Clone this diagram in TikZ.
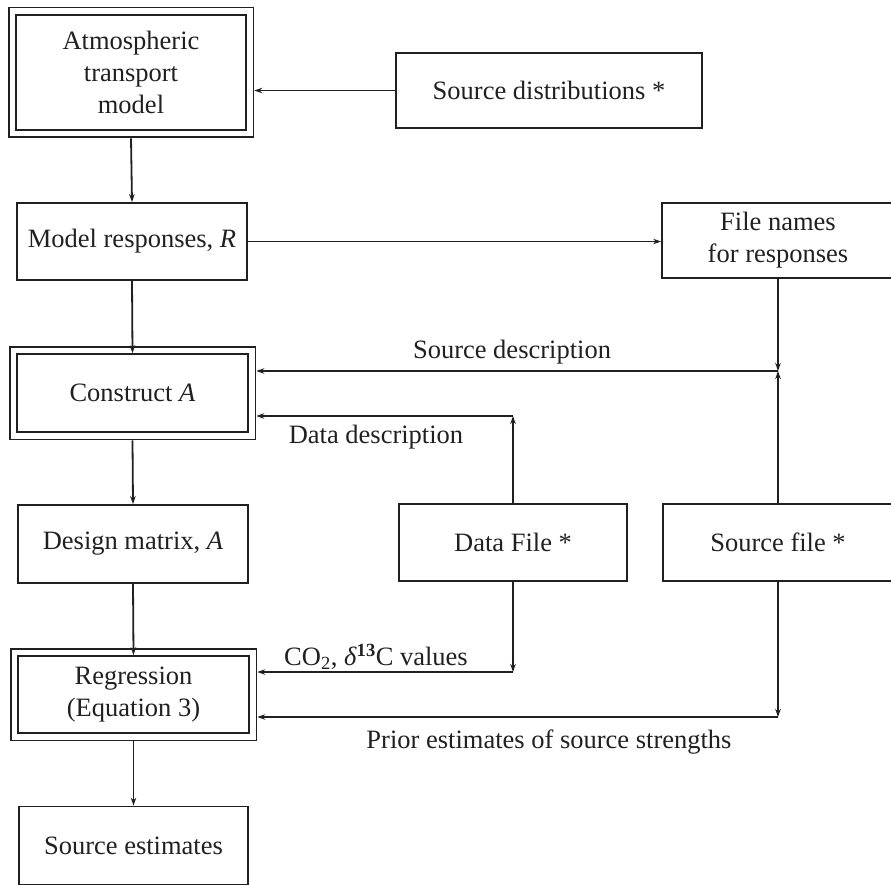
\documentclass[tikz,border=0pt]{standalone}
\usepackage{fontspec}
\setmainfont{Liberation Serif}
\usetikzlibrary{arrows.meta,fit}
\definecolor{ink}{HTML}{202020}
\tikzset{
  box/.style={draw=ink, line width=1.8pt, inner sep=0pt, align=center,
    font=\fontsize{26.5}{32}\selectfont, text=ink},
  outerbox/.style={draw=ink, line width=1.8pt, inner sep=6.5pt},
  conn/.style={draw=ink, line width=1.8pt, -{Stealth[length=8pt,width=5.5pt]}},
  lbl/.style={font=\fontsize{26.5}{32}\selectfont, inner sep=0pt, text=ink}
}
\begin{document}
\begin{tikzpicture}[x=1pt,y=-1pt]
\useasboundingbox (0,0) rectangle (891,885);
\clip (0,0) rectangle (891,885);
% boxes
\node[box, minimum width=230, minimum height=115] (atm) at (131,72.5) {Atmospheric\\transport\\model};
\node[outerbox, fit=(atm)] (atmO) {};
\node[box, minimum width=306, minimum height=75] (srcdist) at (549,90.5) {Source distributions *};
\node[box, minimum width=230, minimum height=77] (resp) at (132,241.5) {Model responses, \textit{R}};
\node[box, minimum width=232, minimum height=75] (fnames) at (778,240.5) {File names\\for responses};
\node[box, minimum width=231, minimum height=78] (constA) at (132.5,393) {Construct \textit{A}};
\node[outerbox, fit=(constA)] (constAO) {};
\node[box, minimum width=230, minimum height=78] (design) at (133,544) {Design matrix, \textit{A}};
\node[box, minimum width=228, minimum height=77] (datafile) at (513,542.5) {Data File *};
\node[box, minimum width=230, minimum height=77] (srcfile) at (778,542.5) {Source file *};
\node[box, minimum width=231, minimum height=77] (regr) at (133.5,694.5) {Regression\\(Equation 3)};
\node[outerbox, fit=(regr)] (regrO) {};
\node[box, minimum width=229, minimum height=78] (srcest) at (133.5,845.5) {Source estimates};
% junctions
\coordinate (j1) at (778,371);
\coordinate (j2) at (513,416);
\coordinate (j3) at (513,672);
\coordinate (j4) at (778,717);
% connectors
\draw[conn] (srcdist.west) -- (srcdist.west -| atmO.east);
\draw[conn] (atmO.south) -- (resp.north);
\draw[conn] (resp.east) -- (resp.east -| fnames.west);
\draw[conn] (resp.south) -- (constA.north);
\draw[conn] (constAO.south) -- (design.north);
\draw[conn] (design.south) -- (regr.north);
\draw[conn] (regrO.south) -- (srcest.north);
\draw[conn] (fnames.south) -- (j1);
\draw[conn] (srcfile.north) -- (j1);
\draw[conn] (j1) -- (j1 -| constAO.east);
\draw[conn] (datafile.north) -- (j2);
\draw[conn] (j2) -- (j2 -| constAO.east);
\draw[conn] (datafile.south) -- (j3);
\draw[conn] (j3) -- (j3 -| regrO.east);
\draw[conn] (srcfile.south) -- (j4);
\draw[conn] (j4) -- (j4 -| regrO.east);
% labels
\node[lbl] (lsd) at (512,352) {Source description};
\node[lbl] (ldd) at (376,437) {Data description};
\node[lbl] (lco) at (376,657) {CO\textsubscript{2}, \textit{δ}\textsuperscript{\textbf{13}}C values};
\node[lbl] (lpe) at (549,742) {Prior estimates of source strengths};
\end{tikzpicture}
\end{document}
